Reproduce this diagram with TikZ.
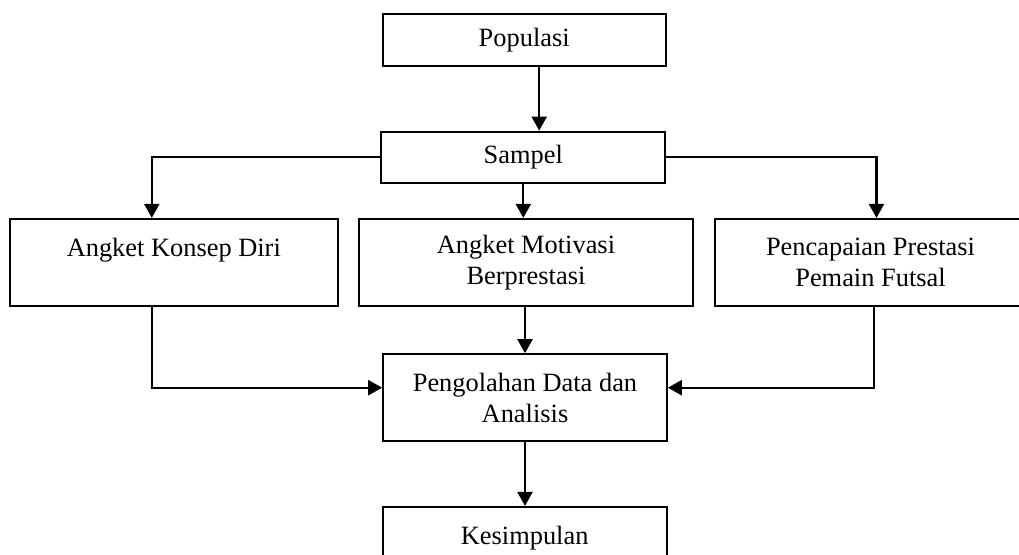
\documentclass[tikz,border=0pt]{standalone}
\usepackage{fontspec}
\setmainfont{Liberation Serif}
\usepackage{tikz}
\usetikzlibrary{arrows.meta}

\begin{document}
\begin{tikzpicture}[x=0.5pt,y=-0.5pt,
  box/.style={draw, line width=1.1pt, rectangle, align=center, inner sep=0pt,
    font=\fontsize{13.2}{15.5}\selectfont},
  arr/.style={line width=1.1pt, -{Triangle[length=7pt,width=7.5pt]}}]
  % Fix the page size
  \useasboundingbox (0,0) rectangle (1019,554);
  \clip (0,0) rectangle (1019,554);

  % Draw the boxes
  \node[box, minimum width=141.5pt, minimum height=26pt] (pop) at (524.2,40) {Populasi};
  \node[box, minimum width=142pt, minimum height=25.5pt] (sampel) at (523.3,157.2) {Sampel};
  \node[box, minimum width=163.8pt, minimum height=43.4pt] (konsep) at (173.8,262.4) {Angket Konsep Diri\\~};
  \node[box, minimum width=167pt, minimum height=43.5pt] (motivasi) at (526,262.5) {Angket Motivasi\\Berprestasi};
  \node[box, minimum width=155.5pt, minimum height=43.5pt] (prestasi) at (870.5,262.5) {Pencapaian Prestasi\\Pemain Futsal};
  \node[box, minimum width=141.7pt, minimum height=43.4pt] (olah) at (525,397.7) {Pengolahan Data dan\\Analisis};
  \node[box, minimum width=142pt, minimum height=43.4pt] (simpul) at (524.7,550.4) {Kesimpulan\\~};

  % Draw the arrows
  \draw[arr] ([xshift=7.5pt]pop.south) -- ([xshift=7.5pt]pop.south |- sampel.north);
  \draw[arr] (sampel.west) -| ([xshift=-11pt]konsep.north);
  \draw[arr] (sampel.east) -| ([xshift=3pt]prestasi.north);
  \draw[arr] (sampel.south) -- (sampel.south |- motivasi.north);
  \draw[arr] (olah.north |- motivasi.south) -- (olah.north);
  \draw[arr] ([xshift=-11pt]konsep.south) |- ([yshift=5pt]olah.west);
  \draw[arr] ([xshift=1.75pt]prestasi.south) |- ([yshift=5pt]olah.east);
  \draw[arr] (olah.south) -- (olah.south |- simpul.north);
\end{tikzpicture}
\end{document}
